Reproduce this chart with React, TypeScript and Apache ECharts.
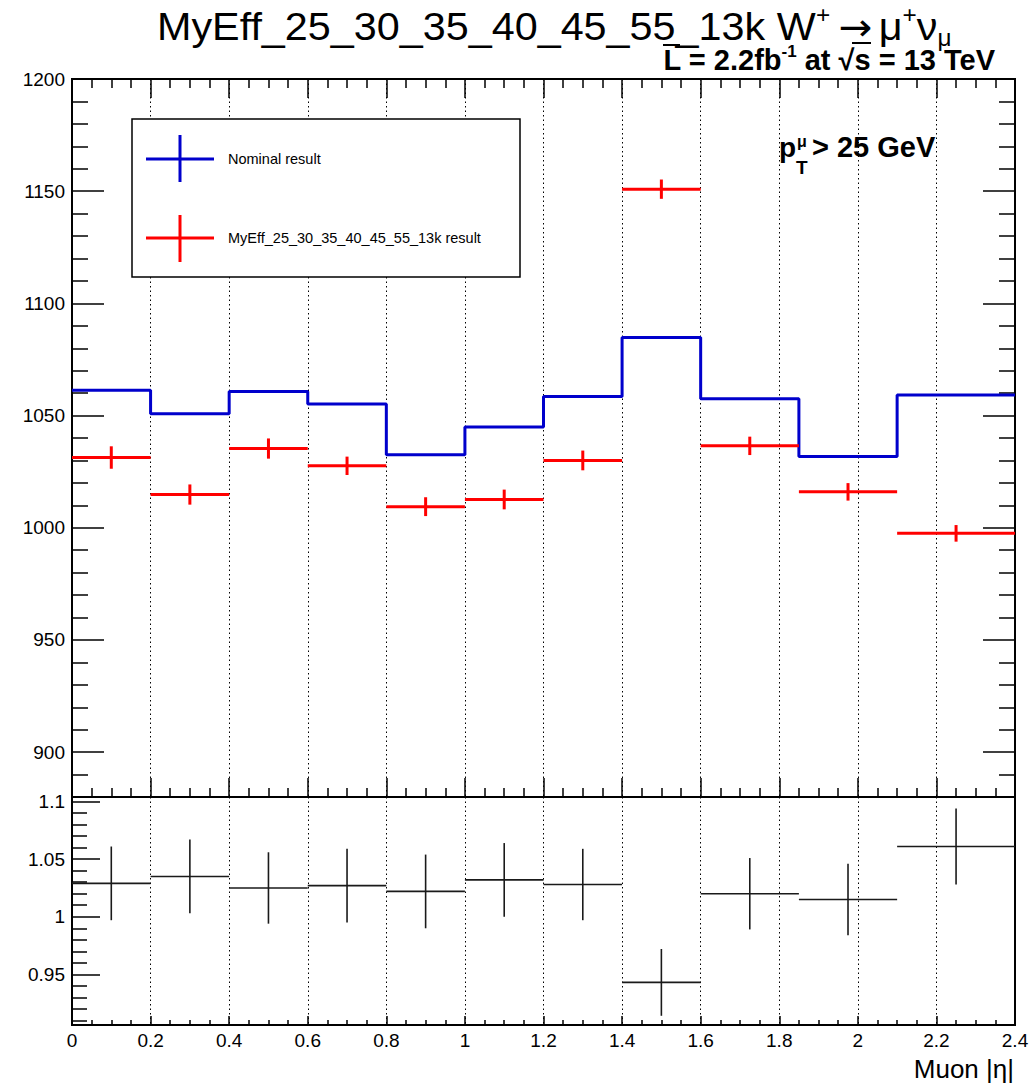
import React, { useEffect, useRef } from "react";
import * as echarts from "echarts";

// Muon |eta| binning and per-bin yields
const binEdges = [0, 0.2, 0.4, 0.6, 0.8, 1.0, 1.2, 1.4, 1.6, 1.85, 2.1, 2.4];
const nominalCounts = [1061.3, 1050.8, 1060.7, 1055.2, 1032.5, 1044.9, 1058.5, 1084.8, 1057.5, 1031.8, 1059.2];
const myEffCounts = [1031.3, 1014.8, 1035.3, 1027.6, 1009.4, 1012.6, 1030.0, 1150.9, 1036.5, 1016.0, 997.5];
const myEffErrors = [5.0, 4.5, 4.5, 4.1, 4.2, 4.4, 4.4, 4.3, 4.1, 3.9, 3.7];
const ratioValues = [1.029, 1.035, 1.025, 1.027, 1.022, 1.032, 1.028, 0.943, 1.02, 1.015, 1.061];
const ratioErrors = [0.032, 0.032, 0.031, 0.032, 0.032, 0.032, 0.031, 0.029, 0.031, 0.031, 0.033];

// Axis tick values
const upperMajorTicks = [900, 950, 1000, 1050, 1100, 1150, 1200];
const upperMinorTicks = [890, 910, 920, 930, 940, 960, 970, 980, 990, 1010, 1020, 1030, 1040, 1060, 1070, 1080, 1090, 1110, 1120, 1130, 1140, 1160, 1170, 1180, 1190];
const ratioMajorTicks = [0.95, 1, 1.05, 1.1];
const ratioMinorTicks = [0.91, 0.92, 0.93, 0.94, 0.96, 0.97, 0.98, 0.99, 1.01, 1.02, 1.03, 1.04, 1.06, 1.07, 1.08, 1.09];

const FONT = "'Liberation Sans', Arial, Helvetica, sans-serif";
const LEFT = 72;
const RIGHT = 1015;
const UPPER_TOP = 79;
const SPLIT_Y = 797;
const LOWER_BOTTOM = 1025;

const crossRenderer = (color: string, width: number) => (params: any, api: any) => {
  const lo = api.value(0);
  const hi = api.value(1);
  const v = api.value(2);
  const e = api.value(3);
  const mid = (lo + hi) / 2;
  const a = api.coord([lo, v]);
  const b = api.coord([hi, v]);
  const t = api.coord([mid, v + e]);
  const u = api.coord([mid, v - e]);
  const style = { stroke: color, lineWidth: width, lineCap: "butt" };
  return {
    type: "group",
    children: [
      { type: "line", shape: { x1: a[0], y1: a[1], x2: b[0], y2: b[1] }, style },
      { type: "line", shape: { x1: t[0], y1: t[1], x2: u[0], y2: u[1] }, style },
    ],
  };
};

const dotted = { type: [1.5, 3], color: "#000", width: 1 };
const txt = (props: any) => ({ type: "text", silent: true, ...props });
const plain = (v: number) => String(v);

export default function App() {
  const ref = useRef<HTMLDivElement>(null);

  useEffect(() => {
    if (!ref.current) return;
    const chart = echarts.init(ref.current, null, { renderer: "svg" });

    const nBins = nominalCounts.length;
    const stepData = binEdges.map((edge, i) => [edge, nominalCounts[Math.min(i, nBins - 1)]]);
    const myEffData = nominalCounts.map((_, i) => [binEdges[i], binEdges[i + 1], myEffCounts[i], myEffErrors[i]]);
    const ratioData = ratioValues.map((r, i) => [binEdges[i], binEdges[i + 1], r, ratioErrors[i]]);

    const xBase = { type: "value", min: 0, max: 2.4, interval: 0.2 };
    const tickLabel = { color: "#000", fontSize: 19, fontFamily: FONT };
    const tickLine = { color: "#000", width: 1.5 };

    const option: any = {
      animation: false,
      backgroundColor: "#fff",
      textStyle: { fontFamily: FONT },
      grid: [
        { left: LEFT, top: UPPER_TOP, width: RIGHT - LEFT, height: SPLIT_Y - UPPER_TOP, show: true, borderColor: "#000", borderWidth: 2, backgroundColor: "transparent" },
        { left: LEFT, top: SPLIT_Y, width: RIGHT - LEFT, height: LOWER_BOTTOM - SPLIT_Y, show: true, borderColor: "#000", borderWidth: 2, backgroundColor: "transparent" },
      ],
      xAxis: [
        {
          ...xBase, gridIndex: 0, position: "bottom",
          axisLine: { show: false },
          axisTick: { show: true, inside: true, length: 19, lineStyle: tickLine },
          minorTick: { show: true, splitNumber: 4, length: 9, lineStyle: tickLine },
          axisLabel: { show: false },
          splitLine: { show: true, lineStyle: dotted },
        },
        {
          ...xBase, gridIndex: 0, position: "top",
          axisLine: { show: false },
          axisTick: { show: true, inside: true, length: 19, lineStyle: tickLine },
          minorTick: { show: true, splitNumber: 4, length: 9, lineStyle: tickLine },
          axisLabel: { show: false },
          splitLine: { show: false },
        },
        {
          ...xBase, gridIndex: 1, position: "bottom",
          axisLine: { show: false },
          axisTick: { show: true, inside: true, length: 9, lineStyle: tickLine },
          minorTick: { show: true, splitNumber: 4, length: 5, lineStyle: tickLine },
          axisLabel: { show: true, margin: 6, formatter: plain, ...tickLabel },
          splitLine: { show: true, lineStyle: dotted },
        },
      ],
      yAxis: [
        {
          type: "value", gridIndex: 0, position: "left", min: 880, max: 1200,
          axisLine: { show: false },
          axisTick: { show: true, inside: true, length: 32, customValues: upperMajorTicks, lineStyle: tickLine },
          axisLabel: { show: true, margin: 7, customValues: upperMajorTicks, formatter: plain, ...tickLabel },
          splitLine: { show: false },
        },
        {
          type: "value", gridIndex: 0, position: "left", min: 880, max: 1200,
          axisLine: { show: false },
          axisTick: { show: true, inside: true, length: 16, customValues: upperMinorTicks, lineStyle: tickLine },
          axisLabel: { show: false },
          splitLine: { show: false },
        },
        {
          type: "value", gridIndex: 0, position: "right", min: 880, max: 1200,
          axisLine: { show: false },
          axisTick: { show: true, inside: true, length: 32, customValues: upperMajorTicks, lineStyle: tickLine },
          axisLabel: { show: false },
          splitLine: { show: false },
        },
        {
          type: "value", gridIndex: 0, position: "right", min: 880, max: 1200,
          axisLine: { show: false },
          axisTick: { show: true, inside: true, length: 16, customValues: upperMinorTicks, lineStyle: tickLine },
          axisLabel: { show: false },
          splitLine: { show: false },
        },
        {
          type: "value", gridIndex: 1, position: "left", min: 0.906, max: 1.104,
          axisLine: { show: false },
          axisTick: { show: true, inside: true, length: 28, customValues: ratioMajorTicks, lineStyle: tickLine },
          axisLabel: { show: true, margin: 7, customValues: ratioMajorTicks, formatter: plain, ...tickLabel },
          splitLine: { show: false },
        },
        {
          type: "value", gridIndex: 1, position: "left", min: 0.906, max: 1.104,
          axisLine: { show: false },
          axisTick: { show: true, inside: true, length: 15, customValues: ratioMinorTicks, lineStyle: tickLine },
          axisLabel: { show: false },
          splitLine: { show: false },
        },
      ],
      series: [
        {
          name: "Nominal result",
          type: "line",
          xAxisIndex: 0,
          yAxisIndex: 0,
          step: "end",
          symbol: "none",
          data: stepData,
          lineStyle: { color: "#0000cc", width: 3 },
          z: 5,
        },
        {
          name: "MyEff_25_30_35_40_45_55_13k result",
          type: "custom",
          xAxisIndex: 0,
          yAxisIndex: 0,
          renderItem: crossRenderer("#ff0000", 3),
          encode: { x: [0, 1], y: 2 },
          data: myEffData,
          z: 6,
        },
        {
          name: "ratio",
          type: "custom",
          xAxisIndex: 2,
          yAxisIndex: 4,
          renderItem: crossRenderer("#1a1a1a", 1.6),
          encode: { x: [0, 1], y: 2 },
          data: ratioData,
          z: 6,
        },
      ],
      graphic: [
        // title
        txt({
          x: 157, y: 4, scaleX: 1.06,
          style: {
            text: "{m|MyEff_25_30_35_40_45_55_13k W}{sup|+}{arr|→}{m|μ}{sup|+}{m|ν}{sub|μ}",
            align: "left", verticalAlign: "top", textAlign: "left", textVerticalAlign: "top",
            fill: "#000",
            rich: {
              m: { fontSize: 39, fontFamily: FONT, lineHeight: 46, fill: "#000" },
              arr: { fontSize: 38, fontFamily: "'DejaVu Sans', sans-serif", lineHeight: 46, fill: "#000", padding: [0, 6, 0, 8] },
              sup: { fontSize: 23, fontFamily: FONT, lineHeight: 20, verticalAlign: "top", fill: "#000" },
              sub: { fontSize: 23, fontFamily: FONT, lineHeight: 16, verticalAlign: "bottom", fill: "#000" },
            },
          },
        }),
        // luminosity / energy line
        txt({
          x: 995, y: 43,
          style: {
            text: "{b|L = 2.2fb}{bs|-1}{b| at √s = 13 TeV}",
            align: "right", verticalAlign: "top", textAlign: "right", textVerticalAlign: "top",
            fill: "#000",
            rich: {
              b: { fontSize: 29, fontWeight: "bold", fontFamily: FONT, lineHeight: 34, fill: "#000" },
              bs: { fontSize: 17, fontWeight: "bold", fontFamily: FONT, lineHeight: 19, verticalAlign: "top", fill: "#000" },
            },
          },
        }),
        { type: "line", silent: true, shape: { x1: 663, y1: 45, x2: 680, y2: 45 }, style: { stroke: "#000", lineWidth: 2 } },
        { type: "line", silent: true, shape: { x1: 852, y1: 43, x2: 871, y2: 43 }, style: { stroke: "#000", lineWidth: 2 } },
        // pT threshold label
        txt({ x: 779, y: 147, style: { text: "p", fontSize: 28, fontWeight: "bold", fontFamily: FONT, fill: "#000", align: "left", verticalAlign: "middle", textAlign: "left", textVerticalAlign: "middle" } }),
        txt({ x: 797, y: 141, style: { text: "μ", fontSize: 16, fontWeight: "bold", fontFamily: FONT, fill: "#000", align: "left", verticalAlign: "middle", textAlign: "left", textVerticalAlign: "middle" } }),
        txt({ x: 796, y: 167, style: { text: "T", fontSize: 19, fontWeight: "bold", fontFamily: FONT, fill: "#000", align: "left", verticalAlign: "middle", textAlign: "left", textVerticalAlign: "middle" } }),
        txt({ x: 812, y: 147, style: { text: "> 25 GeV", fontSize: 29, fontWeight: "bold", fontFamily: FONT, fill: "#000", align: "left", verticalAlign: "middle", textAlign: "left", textVerticalAlign: "middle" } }),
        // legend box
        { type: "rect", silent: true, shape: { x: 132, y: 119, width: 388, height: 158 }, style: { fill: "#fff", stroke: "#000", lineWidth: 1.5 }, z: 10 },
        { type: "line", silent: true, shape: { x1: 146, y1: 159, x2: 214, y2: 159 }, style: { stroke: "#0000cc", lineWidth: 3 }, z: 11 },
        { type: "line", silent: true, shape: { x1: 180, y1: 135, x2: 180, y2: 182 }, style: { stroke: "#0000cc", lineWidth: 3 }, z: 11 },
        { type: "line", silent: true, shape: { x1: 146, y1: 238, x2: 214, y2: 238 }, style: { stroke: "#ff0000", lineWidth: 3 }, z: 11 },
        { type: "line", silent: true, shape: { x1: 180, y1: 215, x2: 180, y2: 262 }, style: { stroke: "#ff0000", lineWidth: 3 }, z: 11 },
        txt({ x: 228, y: 159, z: 11, style: { text: "Nominal result", fontSize: 14.5, fontFamily: FONT, fill: "#000", align: "left", verticalAlign: "middle", textAlign: "left", textVerticalAlign: "middle" } }),
        txt({ x: 228, y: 238, z: 11, style: { text: "MyEff_25_30_35_40_45_55_13k result", fontSize: 14.5, fontFamily: FONT, fill: "#000", align: "left", verticalAlign: "middle", textAlign: "left", textVerticalAlign: "middle" } }),
        // x axis title
        txt({ x: 1014, y: 1069, style: { text: "Muon |η|", fontSize: 26, fontFamily: FONT, fill: "#000", align: "right", verticalAlign: "middle", textAlign: "right", textVerticalAlign: "middle" } }),
      ],
    };

    chart.setOption(option);
    return () => chart.dispose();
  }, []);

  return (
    <div
      ref={ref}
      style={{ position: "absolute", left: 0, top: 0, width: 1032, height: 1083, background: "#fff" }}
    />
  );
}
